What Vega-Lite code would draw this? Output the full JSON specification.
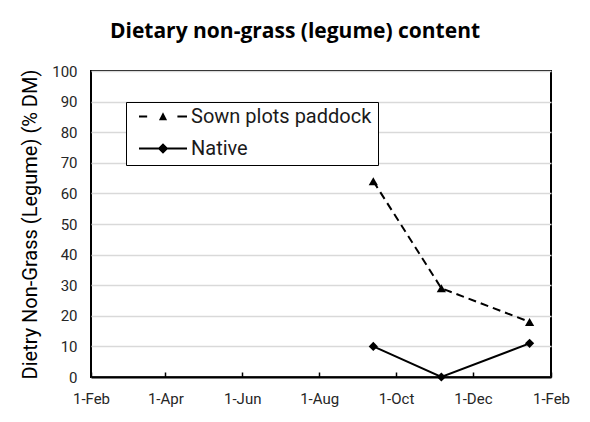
{
  "$schema": "https://vega.github.io/schema/vega-lite/v6.json",
  "autosize": "none",
  "width": 460,
  "height": 306,
  "padding": {"left": 91, "top": 71, "right": 39, "bottom": 45},
  "background": "white",
  "config": {
    "font": "Roboto",
    "view": {"stroke": "black", "strokeWidth": 2},
    "axis": {"labelFont": "Roboto", "labelFontSize": 15, "labelColor": "#262626", "titleFont": "Roboto"}
  },
  "title": {
    "text": "Dietary non-grass (legume) content",
    "font": "Open Sans",
    "fontSize": 21,
    "fontWeight": "bold",
    "color": "black",
    "anchor": "middle",
    "baseline": "alphabetic",
    "offset": 5,
    "dx": -26
  },
  "data": {
    "values": [
      {"date": "2023-09-13", "series": "Sown plots paddock", "value": 64},
      {"date": "2023-11-06", "series": "Sown plots paddock", "value": 29},
      {"date": "2024-01-15", "series": "Sown plots paddock", "value": 18},
      {"date": "2023-09-13", "series": "Native", "value": 10},
      {"date": "2023-11-06", "series": "Native", "value": 0},
      {"date": "2024-01-15", "series": "Native", "value": 11}
    ]
  },
  "encoding": {
    "x": {
      "field": "date",
      "type": "temporal",
      "scale": {
        "type": "utc",
        "domain": [
          {"year": 2023, "month": 2, "date": 1, "utc": true},
          {"year": 2024, "month": 2, "date": 1, "utc": true}
        ]
      },
      "axis": {
        "title": null,
        "format": "%-d-%b",
        "values": [
          {"year": 2023, "month": 2, "date": 1, "utc": true},
          {"year": 2023, "month": 4, "date": 1, "utc": true},
          {"year": 2023, "month": 6, "date": 1, "utc": true},
          {"year": 2023, "month": 8, "date": 1, "utc": true},
          {"year": 2023, "month": 10, "date": 1, "utc": true},
          {"year": 2023, "month": 12, "date": 1, "utc": true},
          {"year": 2024, "month": 2, "date": 1, "utc": true}
        ],
        "grid": false,
        "domainColor": "black",
        "domainWidth": 2,
        "tickColor": "black",
        "tickWidth": 1.5,
        "tickSize": -5,
        "labelPadding": 19,
        "labelFlush": false
      }
    },
    "y": {
      "field": "value",
      "type": "quantitative",
      "scale": {"domain": [0, 100], "nice": false},
      "axis": {
        "title": "Dietry Non-Grass (Legume) (% DM)",
        "titleFontSize": 20,
        "titleFontWeight": "normal",
        "titleColor": "black",
        "titlePadding": 11,
        "values": [0, 10, 20, 30, 40, 50, 60, 70, 80, 90, 100],
        "domain": false,
        "ticks": false,
        "labelPadding": 14,
        "gridColor": "#d9d9d9",
        "gridWidth": 1.3
      }
    }
  },
  "layer": [
    {
      "transform": [{"filter": "datum.series === 'Sown plots paddock'"}],
      "mark": {"type": "line", "color": "black", "strokeWidth": 2, "strokeDash": [8, 5]},
      "encoding": {}
    },
    {
      "transform": [{"filter": "datum.series === 'Native'"}],
      "mark": {"type": "line", "color": "black", "strokeWidth": 2},
      "encoding": {}
    },
    {
      "mark": {"type": "point", "filled": true, "color": "black", "opacity": 1, "size": 85},
      "encoding": {
        "shape": {
          "field": "series",
          "type": "nominal",
          "scale": {"domain": ["Sown plots paddock", "Native"], "range": ["triangle-up", "diamond"]},
          "legend": null
        }
      }
    },
    {
      "mark": {"type": "point", "filled": true, "fill": "black", "stroke": "black", "strokeWidth": 2, "opacity": 0, "size": 85},
      "encoding": {
        "shape": {
          "field": "series",
          "type": "nominal",
          "scale": {
            "domain": ["Sown plots paddock", "Native"],
            "range": [
              "M-1,-0.045L-0.66,-0.045L-0.66,0.045L-1,0.045ZM0.6,-0.045L1,-0.045L1,0.045L0.6,0.045ZM-0.17,0.16L0,-0.18L0.17,0.16Z",
              "M-1,-0.045L1,-0.045L1,0.045L-1,0.045ZM-0.22,0L0,-0.22L0.22,0L0,0.22Z"
            ]
          },
          "legend": {
            "orient": "none",
            "legendX": 35,
            "legendY": 31,
            "title": null,
            "strokeColor": "black",
            "fillColor": "white",
            "padding": 6,
            "symbolSize": 2304,
            "symbolOpacity": 1,
            "symbolFillColor": "black",
            "symbolStrokeColor": "black",
            "symbolStrokeWidth": 2,
            "clipHeight": 17,
            "rowPadding": 11,
            "symbolOffset": 6,
            "labelOffset": 3,
            "labelFont": "Roboto",
            "labelFontSize": 20,
            "labelColor": "#1a1a1a",
            "labelLimit": 400
          }
        }
      }
    }
  ],
  "resolve": {"scale": {"shape": "independent"}}
}
